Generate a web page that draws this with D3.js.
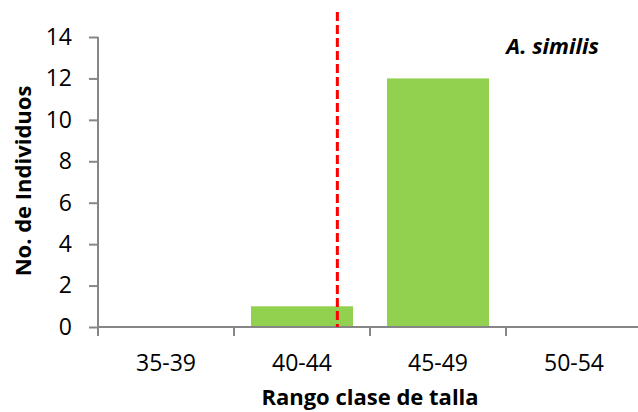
<!DOCTYPE html>
<html>
<head>
<meta charset="utf-8">
<script src="https://cdn.jsdelivr.net/npm/d3@7"></script>
<style>
  body { margin: 0; background: #fff; }
  text { font-family: "Open Sans", Lato, sans-serif; fill: #000; }
</style>
</head>
<body>
<div id="chart"></div>
<script>
// datos del histograma
const clases = ['35-39', '40-44', '45-49', '50-54'];
const individuos = [0, 1, 12, 0];
const yTicks = [0, 2, 4, 6, 8, 10, 12, 14];
const tallaLimites = [35, 55];
const tallaMadurez = 43.8;   // linea roja discontinua
const especie = 'A. similis';

const width = 638;
const height = 412;
const margin = { top: 37, right: -4, bottom: 85, left: 98 };

const svg = d3.select('#chart').append('svg')
    .attr('width', width)
    .attr('height', height);

const xScale = d3.scaleBand()
    .domain(clases)
    .range([margin.left, width - margin.right])
    .paddingInner(0.25)
    .paddingOuter(0.125);

// escala continua para la linea de talla
const xTalla = d3.scaleLinear()
    .domain(tallaLimites)
    .range([margin.left, width - margin.right]);

const yScale = d3.scaleLinear()
    .domain([0, 14])
    .range([height - margin.bottom, margin.top]);

const axisColor = '#868686';

// barras
svg.selectAll('.bar')
    .data(individuos)
    .enter().append('rect')
    .attr('class', 'bar')
    .attr('x', (d, i) => xScale(clases[i]))
    .attr('y', d => yScale(d))
    .attr('width', xScale.bandwidth())
    .attr('height', d => yScale(0) - yScale(d))
    .attr('fill', '#92D050');

// eje y
const yAxis = svg.append('g')
    .attr('transform', `translate(${margin.left}, 0)`)
    .call(d3.axisLeft(yScale).tickValues(yTicks).tickSize(9).tickPadding(17));
yAxis.selectAll('.domain').remove();
yAxis.append('line')
    .attr('x1', 0).attr('x2', 0)
    .attr('y1', yScale(14)).attr('y2', yScale(0) + 9)
    .attr('stroke', axisColor).attr('stroke-width', 2);
yAxis.selectAll('.tick line').attr('stroke', axisColor).attr('stroke-width', 2);
yAxis.selectAll('.tick text')
    .style('font-size', '23px')
    .style('font-family', '"Open Sans", sans-serif')
    .attr('fill', '#000');

// eje x con marcas entre clases
const xAxisG = svg.append('g')
    .attr('transform', `translate(0, ${yScale(0)})`);
xAxisG.append('line')
    .attr('x1', margin.left).attr('x2', width)
    .attr('stroke', axisColor).attr('stroke-width', 2);
const step = xScale.step();
xAxisG.selectAll('.sep')
    .data(clases.slice(1))
    .enter().append('line')
    .attr('x1', d => xScale(d) + xScale.bandwidth() / 2 - step / 2)
    .attr('x2', d => xScale(d) + xScale.bandwidth() / 2 - step / 2)
    .attr('y1', 0).attr('y2', 9)
    .attr('stroke', axisColor).attr('stroke-width', 2);
xAxisG.selectAll('.lbl')
    .data(clases)
    .enter().append('text')
    .attr('x', d => xScale(d) + xScale.bandwidth() / 2)
    .attr('y', 44)
    .attr('text-anchor', 'middle')
    .style('font-size', '23px')
    .text(d => d);

// linea de talla
svg.append('line')
    .attr('x1', xTalla(tallaMadurez)).attr('x2', xTalla(tallaMadurez))
    .attr('y1', 12).attr('y2', yScale(0))
    .attr('stroke', '#FF0000')
    .attr('stroke-width', 3)
    .attr('stroke-dasharray', '9,4');

// titulos
svg.append('text')
    .attr('x', 599)
    .attr('y', 54)
    .attr('text-anchor', 'end')
    .style('font-size', '22px')
    .style('font-weight', 'bold')
    .style('font-style', 'italic')
    .text(especie);

svg.append('text')
    .attr('x', 370)
    .attr('y', 405)
    .attr('text-anchor', 'middle')
    .style('font-size', '22px')
    .style('font-weight', 'bold')
    .text('Rango clase de talla');

svg.append('text')
    .attr('transform', 'translate(31, 181) rotate(-90)')
    .attr('text-anchor', 'middle')
    .style('font-size', '22px')
    .style('font-weight', 'bold')
    .text('No. de Individuos');
</script>
</body>
</html>
